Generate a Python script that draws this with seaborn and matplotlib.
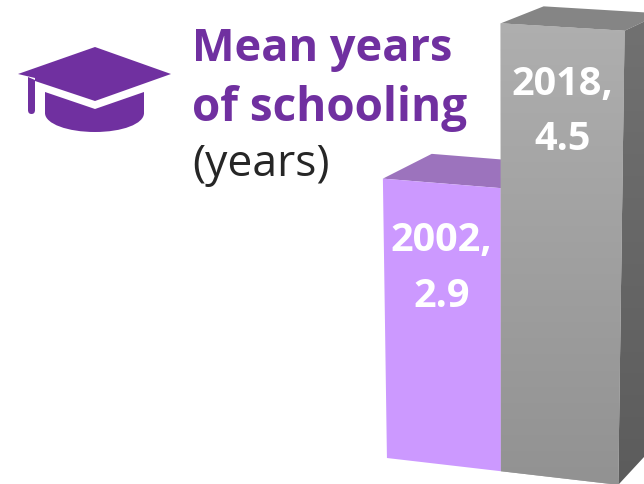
import numpy as np
import pandas as pd
import matplotlib
matplotlib.use("Agg")
import matplotlib.pyplot as plt
from matplotlib.path import Path
from matplotlib.patches import PathPatch, Polygon
from matplotlib.transforms import Affine2D, Transform
import seaborn as sns

years = ["2002", "2018"]
values = [2.9, 4.5]
bar_colors = ["#cc99ff", "#a6a6a6"]
title_lines = ["Mean years", "of schooling"]
unit_label = "(years)"

PURPLE = "#7030a0"
W, H = 644, 484

sns.set_theme(style="white")
plt.rcParams["font.family"] = ["Open Sans", "DejaVu Sans"]

# Calibration of the oblique camera: (slot, value) -> (px, py) on the canvas
camera_src = np.array([[-0.5, 0], [0.5, 0], [1.5, 0], [-0.5, 2.9], [0.5, 2.9], [0.5, 4.5], [1.5, 4.5]])
camera_dst = np.array([[387, 458], [500, 472], [619, 484], [384, 178], [500, 189], [500, 23], [625, 31]], float)


def fit_homography(src, dst):
    rows, rhs = [], []
    for (x, y), (u, v) in zip(src, dst):
        rows.append([x, y, 1, 0, 0, 0, -u * x, -u * y])
        rows.append([0, 0, 0, x, y, 1, -v * x, -v * y])
        rhs += [u, v]
    h = np.linalg.lstsq(np.array(rows), np.array(rhs), rcond=None)[0]
    return np.append(h, 1).reshape(3, 3)


HOMOGRAPHY = fit_homography(camera_src, camera_dst)


class Oblique(Transform):
    """Projects (slot, value) data onto canvas pixels."""
    input_dims = output_dims = 2

    def transform_non_affine(self, pts):
        pts = np.asarray(pts, float)
        q = np.column_stack([pts, np.ones(len(pts))]) @ HOMOGRAPHY.T
        return q[:, :2] / q[:, 2:]


oblique = Oblique()
canvas = Affine2D().scale(1, -1).translate(0, H)  # pixels, y down
VANISH = np.array([1360.0, -317.0])
DEPTH = 0.05


def back(p):
    p = np.asarray(p, float)
    return p + (VANISH - p) * DEPTH


def project(x, y):
    return oblique.transform_non_affine(np.array([[x, y]]))[0]


def gradient(ax, top_color, bottom_color, path, transform, zorder):
    c = np.array([matplotlib.colors.to_rgb(top_color), matplotlib.colors.to_rgb(bottom_color)])
    ramp = np.linspace(c[0], c[1], 256)[:, None, :]
    im = ax.imshow(ramp, extent=(0, W, H, 0), origin="upper", aspect="auto",
                   transform=canvas, zorder=zorder, interpolation="bilinear")
    im.set_clip_path(path, transform)


fig = plt.figure(figsize=(W / 100, H / 100), dpi=100, facecolor="white")
ax = fig.add_axes([0, 0, 1, 1])

df = pd.DataFrame({"year": years, "value": values})
sns.barplot(data=df, x="year", y="value", hue="year", palette=bar_colors,
            width=1, dodge=False, legend=False, saturation=1, ax=ax)

bars = list(ax.patches)
for bar in bars:
    bar.set_transform(oblique + canvas)
    bar.set_linewidth(0)
    bar.set_antialiased(True)
    bar.set_clip_on(False)
    bar.set_zorder(3)

# Top faces and the exposed right side follow from each bar's own corners
top_colors = ["#9c73bd", "#858585"]
for bar, color in zip(bars, top_colors):
    x0, x1 = bar.get_x(), bar.get_x() + bar.get_width()
    h = bar.get_height()
    tl, tr = project(x0, h), project(x1, h)
    ax.add_patch(Polygon([tl, tr, back(tr), back(tl)], closed=True, facecolor=color,
                         edgecolor="none", transform=canvas, zorder=2, clip_on=False))

tall = bars[1]
x1, h = tall.get_x() + tall.get_width(), tall.get_height()
tr, br = project(x1, h), project(x1, 0)
side_path = Path([tr, back(tr), back(br), br, tr], closed=True)
gradient(ax, "#727272", "#5c5c5c", side_path, canvas, 2.5)

# Shaded front of the grey bar
gradient(ax, "#b0b0b0", "#929292", tall.get_path(), tall.get_transform(), 3.5)
ax.set_xlim(-0.5, 1.5)
ax.set_ylim(0, 5)
ax.axis("off")

# Value labels sit a fixed distance below each bar's top edge
for bar, year, value in zip(bars, years, values):
    cx = bar.get_x() + bar.get_width() / 2
    px, py = project(cx, bar.get_height())
    ax.text(px, py + 85, f"{year},\n{value}", transform=canvas, color="white",
            fontsize=28.5, fontweight="bold", ha="center", va="center",
            linespacing=1.55, zorder=5)

# Heading
ax.text(192, 49, title_lines[0], transform=canvas, color=PURPLE, fontsize=32.5,
        fontweight="bold", ha="left", va="center", zorder=5)
ax.text(192, 109, title_lines[1], transform=canvas, color=PURPLE, fontsize=33,
        fontweight="bold", ha="left", va="center", zorder=5)
ax.text(192, 165, unit_label, transform=canvas, color="#262626", fontsize=32,
        ha="left", va="center", zorder=5)

# Graduation cap icon
ax.add_patch(Polygon([(18, 74), (95, 47), (171, 74), (95, 101), (35, 81), (35, 78)],
                     closed=True, facecolor=PURPLE, edgecolor="none", transform=canvas, zorder=5))
tassel = Path([(28, 77), (35, 80), (35, 110), (35, 114), (31.5, 114), (28, 114), (28, 110), (28, 77)],
              [Path.MOVETO, Path.LINETO, Path.LINETO, Path.CURVE3, Path.CURVE3, Path.CURVE3, Path.CURVE3, Path.CLOSEPOLY])
ax.add_patch(PathPatch(tassel, facecolor=PURPLE, edgecolor="none", transform=canvas, zorder=5))
base = Path([(45, 92), (95, 109), (144, 92), (144, 113), (144, 124), (122, 132), (95, 132),
             (68, 132), (45, 124), (45, 113), (45, 92)],
            [Path.MOVETO, Path.LINETO, Path.LINETO, Path.LINETO, Path.CURVE4, Path.CURVE4, Path.CURVE4,
             Path.CURVE4, Path.CURVE4, Path.CURVE4, Path.CLOSEPOLY])
ax.add_patch(PathPatch(base, facecolor=PURPLE, edgecolor="none", transform=canvas, zorder=5))

fig.savefig("out.png", dpi=100, facecolor="white")
